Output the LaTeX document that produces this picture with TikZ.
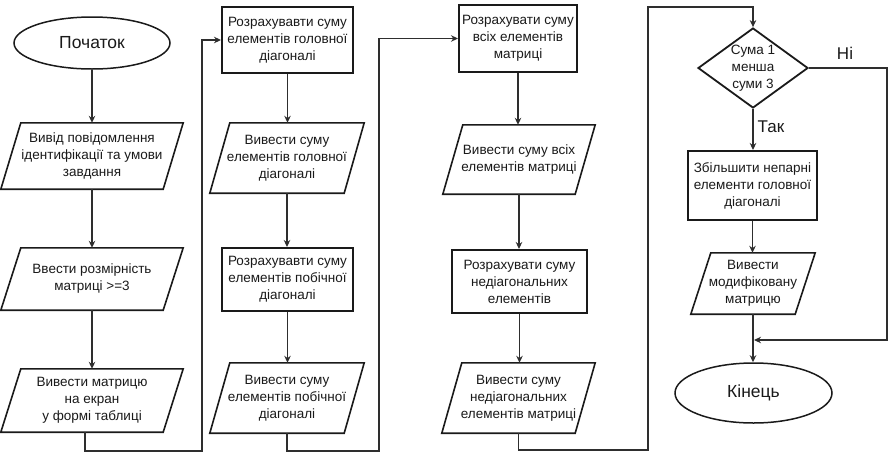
\documentclass[tikz,border=0pt]{standalone}
\usepackage{fontspec}
\setmainfont{Liberation Sans}
\usetikzlibrary{shapes.geometric,arrows.meta}
\definecolor{ink}{HTML}{1A1A1A}
\definecolor{wire}{HTML}{2E2E2E}
\tikzset{
  x=1pt,y=-1pt,
  txt/.style={font=\fontsize{13.5}{17}\selectfont, text=ink, align=center, inner sep=0pt},
  bigtxt/.style={font=\fontsize{17.5}{20}\selectfont, text=ink, align=center, inner sep=0pt},
  procbox/.style={txt, rectangle, draw=ink, line width=2pt, fill=white},
  iobox/.style={txt, rectangle, draw=none},
  ioline/.style={draw=ink, line width=1.6pt, line join=miter, fill=white},
  termbox/.style={bigtxt, ellipse, draw=ink, line width=1.5pt, fill=white},
  decbox/.style={txt, diamond, draw=ink, line width=1.8pt, fill=white},
  wirestyle/.style={draw=wire, line width=1.3pt},
  arr/.style={wirestyle, -{Stealth[length=7pt,width=6.5pt]}},
  lbl/.style={font=\fontsize{17}{20}\selectfont, text=ink, inner sep=0pt}
}
\begin{document}
\begin{tikzpicture}
\useasboundingbox (0,0) rectangle (895,461);
% parallelogram backgrounds drawn after node placement
\node[termbox, minimum width=156pt, minimum height=52pt] (start) at (92,43) {Початок};
\node[iobox, minimum width=182pt, minimum height=66pt] (p1) at (92,156) {};
\node[iobox, minimum width=182pt, minimum height=62pt] (p2) at (92,279) {};
\node[iobox, minimum width=182pt, minimum height=63pt] (p3) at (92,400.5) {};
\node[procbox, minimum width=131pt, minimum height=66pt] (b1) at (287.5,40) {Розрахувавти суму\\елементів головної\\діагоналі};
\node[iobox, minimum width=154pt, minimum height=70pt] (p4) at (287,158) {};
\node[procbox, minimum width=131pt, minimum height=63pt] (b2) at (287.5,279.5) {Розрахувавти суму\\елементів побічної\\діагоналі};
\node[iobox, minimum width=154pt, minimum height=70pt] (p5) at (287,398) {};
\node[procbox, minimum width=118pt, minimum height=67pt] (b3) at (518,38.5) {Розрахувати суму\\всіх елементів\\матриці};
\node[iobox, minimum width=152pt, minimum height=69pt] (p6) at (519,159.5) {};
\node[procbox, minimum width=135pt, minimum height=63pt] (b4) at (519.5,281.5) {Розрахувати суму\\недіагональних\\елементів};
\node[iobox, minimum width=153pt, minimum height=70pt] (p7) at (518.5,398) {};
\node[decbox, minimum width=110pt, minimum height=80pt, aspect=1.375] (d) at (753,68) {};
\node[txt] at (753,68) {Сума 1\\менша\\суми 3};
\node[procbox, minimum width=129pt, minimum height=69pt] (b5) at (752.5,185.5) {Збільшити непарні\\елементи головної\\діагоналі};
\node[iobox, minimum width=124pt, minimum height=61pt] (p8) at (753,283.5) {};
\node[termbox, minimum width=157pt, minimum height=60pt] (end) at (753.5,393) {Кінець};

% parallelogram outlines
\foreach \n in {p1,p2,p3,p4,p5,p6,p7,p8}{
  \draw[ioline] ([xshift=20pt]\n.north west) -- (\n.north east) -- ([xshift=-20pt]\n.south east) -- (\n.south west) -- cycle;
}
% parallelogram texts
\node[txt] at (p1) {Вивід повідомлення\\ідентифікації та умови\\завдання};
\node[txt] at (p2) {Ввести розмірність\\матриці >=3};
\node[txt] at (p3) {Вивести матрицю\\на екран\\у формі таблиці};
\node[txt] at (p4) {Вивести суму\\елементів головної\\діагоналі};
\node[txt] at (p5) {Вивести суму\\елементів побічної\\діагоналі};
\node[txt] at (p6) {Вивести суму всіх\\елементів матриці};
\node[txt] at (p7) {Вивести суму\\недіагональних\\елементів матриці};
\node[txt] at (p8) {Вивести\\модифіковану\\матрицю};

% coordinates for bends
\coordinate (l1) at (202,451);
\coordinate (l2) at (379,451);
\coordinate (l3) at (648,450);
\coordinate (t3) at (648,7);
\coordinate (r1) at (887,340);
\coordinate (m1) at (754,340);

% column 1
\draw[arr] (start.south) -- (start.south |- p1.north);
\draw[arr] (p1.south) -- (p1.south |- p2.north);
\draw[arr] (p2.south) -- (p2.south |- p3.north);
\draw[arr] ([xshift=-7pt]p3.south) |- (l1) |- (b1.west);
% column 2
\draw[arr] (b1.south) -- (b1.south |- p4.north);
\draw[arr] (p4.south) -- (p4.south |- b2.north);
\draw[arr] (b2.south) -- (b2.south |- p5.north);
\draw[arr] (p5.south) |- (l2) |- (b3.west);
% column 3
\draw[arr] (b3.south) -- (b3.south |- p6.north);
\draw[arr] (p6.south) -- (p6.south |- b4.north);
\draw[arr] (b4.south) -- (b4.south |- p7.north);
\draw[arr] (p7.south) |- (l3) -- (t3) -| (d.north);
% column 4
\draw[arr] (d.south) -- (d.south |- b5.north);
\draw[arr] (b5.south) -- (b5.south |- p8.north);
\draw[arr] (p8.south) -- (p8.south |- end.north);
\draw[arr] (d.east) -| (r1) -- (m1);
\node[lbl] (no) at (845,53) {Ні};
\node[lbl] (yes) at (771,127) {Так};
\end{tikzpicture}
\end{document}
